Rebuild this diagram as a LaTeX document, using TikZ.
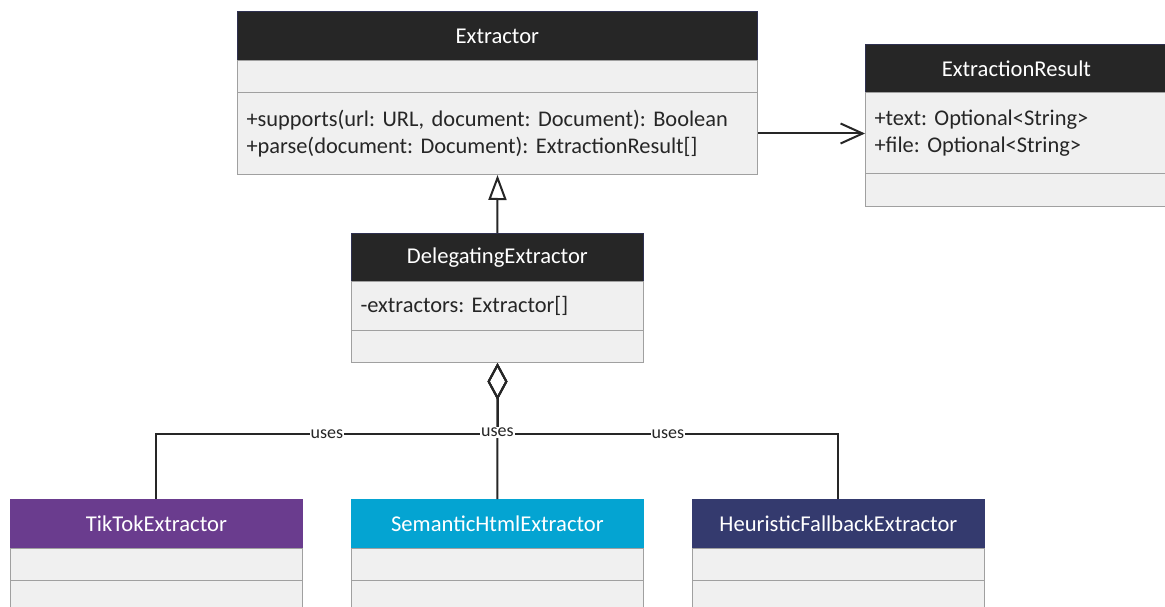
\documentclass[tikz,border=0pt]{standalone}
\usepackage{fontspec}
\setmainfont{Carlito}
\usetikzlibrary{arrows.meta}
\frenchspacing
\definecolor{hdark}{HTML}{262626}
\definecolor{hborder}{HTML}{2E3050}
\definecolor{secfill}{HTML}{F0F0F0}
\definecolor{secborder}{HTML}{A0A0A0}
\definecolor{textc}{HTML}{262626}
\definecolor{linec}{HTML}{262626}
\definecolor{tikc}{HTML}{6A3C8E}
\definecolor{semc}{HTML}{04A4D2}
\definecolor{heuc}{HTML}{343A6E}
\tikzset{
  hdr/.style={rectangle, draw=hborder, fill=hdark, text=white, anchor=north west,
    inner sep=0pt, line width=0.8pt, font=\fontsize{22.6}{27}\selectfont},
  sec/.style={rectangle, draw=secborder, fill=secfill, anchor=north west,
    inner sep=0pt, line width=1pt},
  sect/.style={rectangle, draw=secborder, fill=secfill, anchor=north west,
    inner xsep=9pt, inner ysep=0pt, line width=1pt, align=left, text=textc,
    font=\fontsize{22.4}{27.5}\selectfont},
  link/.style={draw=linec, line width=2pt},
  lbl/.style={fill=white, inner sep=1pt, text=textc, font=\fontsize{18}{20}\selectfont}
}
\begin{document}
\begin{tikzpicture}[x=1pt, y=-1pt]
\useasboundingbox (0,0) rectangle (1165,607);
\clip (0,0) rectangle (1165,607);
% Extractor
\node[hdr, minimum width=520pt, minimum height=49pt] (ext-h) at (237,11) {Extractor};
\node[sec, minimum width=520pt, minimum height=32pt] (ext-a) at (237,60) {};
\node[sect, text width=502pt, minimum height=82pt] (ext-m) at (237,92)
  {+supports(url: URL, document: Document): Boolean\\+parse(document: Document): ExtractionResult[]};
% ExtractionResult
\node[hdr, minimum width=320pt, minimum height=48pt] (res-h) at (865,44) {\hspace*{-18pt}ExtractionResult};
\node[sect, text width=302pt, minimum height=81pt] (res-a) at (865,92)
  {+text: Optional<String>\\+file: Optional<String>};
\node[sec, minimum width=320pt, minimum height=33pt] (res-m) at (865,173) {};
% DelegatingExtractor
\node[hdr, minimum width=292pt, minimum height=48pt] (del-h) at (351,233) {DelegatingExtractor};
\node[sect, text width=274pt, minimum height=49pt] (del-a) at (351,281) {-extractors: Extractor[]};
\node[sec, minimum width=292pt, minimum height=32pt] (del-m) at (351,330) {};
% TikTokExtractor
\node[hdr, fill=tikc, draw=tikc, minimum width=292pt, minimum height=49pt] (tik-h) at (10,499) {TikTokExtractor};
\node[sec, minimum width=292pt, minimum height=32pt] (tik-a) at (10,548) {};
\node[sec, minimum width=292pt, minimum height=40pt] (tik-m) at (10,580) {};
% SemanticHtmlExtractor
\node[hdr, fill=semc, draw=semc, minimum width=292pt, minimum height=49pt] (sem-h) at (351,499) {SemanticHtmlExtractor};
\node[sec, minimum width=292pt, minimum height=32pt] (sem-a) at (351,548) {};
\node[sec, minimum width=292pt, minimum height=40pt] (sem-m) at (351,580) {};
% HeuristicFallbackExtractor
\node[hdr, fill=heuc, draw=heuc, minimum width=292pt, minimum height=49pt] (heu-h) at (692,499) {HeuristicFallbackExtractor};
\node[sec, minimum width=292pt, minimum height=32pt] (heu-a) at (692,548) {};
\node[sec, minimum width=292pt, minimum height=40pt] (heu-m) at (692,580) {};
% connectors
\draw[link, -{Straight Barb[length=22pt, width=20pt, line width=2pt]}]
  (ext-m.east) -- (ext-m.east -| res-a.west);
\draw[link, -{Triangle[open, length=25pt, width=18pt, line width=2pt]}]
  (del-h.north) -- (ext-m.south);
\draw[link, {Diamond[open, length=37pt, width=20pt, line width=2pt]}-]
  (del-m.south) -- ++(0,71) -| node[lbl, pos=0.25] {uses} (tik-h.north);
\draw[link, {Diamond[open, length=37pt, width=20pt, line width=2pt]}-]
  (del-m.south) -- ++(0,71) -| node[lbl, pos=0.25] {uses} (heu-h.north);
\draw[link, {Diamond[open, length=37pt, width=20pt, line width=2pt]}-]
  (del-m.south) -- node[lbl, pos=0.51] {uses} (sem-h.north);
\end{tikzpicture}
\end{document}
